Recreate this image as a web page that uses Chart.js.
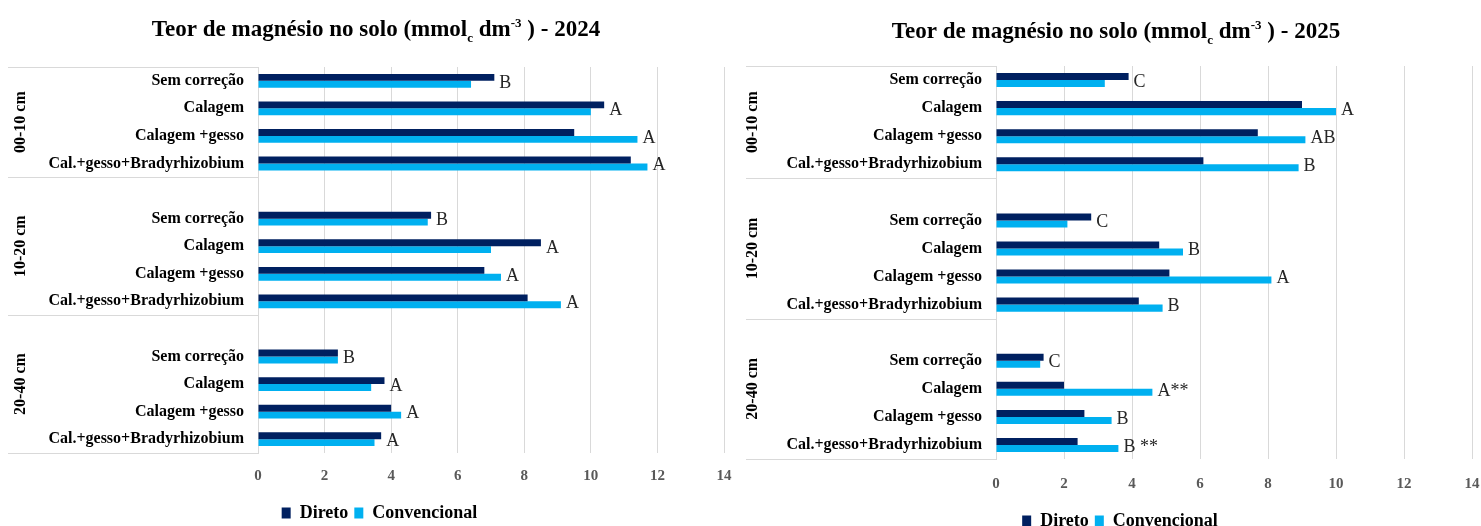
<!DOCTYPE html>
<html><head><meta charset="utf-8">
<script src="https://cdn.jsdelivr.net/npm/chart.js@4.4.1/dist/chart.umd.min.js"></script>
<style>
html,body{margin:0;padding:0;background:#fff;overflow:hidden;width:1481px;height:526px;position:relative;}
canvas{position:absolute;top:0;}
</style></head><body>
<canvas id="c1" width="756" height="532" style="left:0px"></canvas>
<canvas id="c2" width="758" height="540" style="left:740px"></canvas>
<script>
// ---- data ----
const categories = ['Sem correção','Calagem','Calagem +gesso','Cal.+gesso+Bradyrhizobium','',
                    'Sem correção','Calagem','Calagem +gesso','Cal.+gesso+Bradyrhizobium','',
                    'Sem correção','Calagem','Calagem +gesso','Cal.+gesso+Bradyrhizobium'];
const depthGroups = ['00-10 cm','10-20 cm','20-40 cm'];
const groupStart = [0, 4, 9];
const groupEnd = [3, 8, 13];
const seriesNames = ['Direto','Convencional'];

const direto2024 = [7.1, 10.4, 9.5, 11.2, null, 5.2, 8.5, 6.8, 8.1, null, 2.4, 3.8, 4.0, 3.7];
const convencional2024 = [6.4, 10.0, 11.4, 11.7, null, 5.1, 7.0, 7.3, 9.1, null, 2.4, 3.4, 4.3, 3.5];
const letters2024 = ['B','A','A','A','', 'B','A','A','A','', 'B','A','A','A'];

const direto2025 = [3.9, 9.0, 7.7, 6.1, null, 2.8, 4.8, 5.1, 4.2, null, 1.4, 2.0, 2.6, 2.4];
const convencional2025 = [3.2, 10.0, 9.1, 8.9, null, 2.1, 5.5, 8.1, 4.9, null, 1.3, 4.6, 3.4, 3.6];
const letters2025 = ['C','A','AB','B','', 'C','B','A','B','', 'C','A**','B','B **'];

const xMin = 0, xMax = 14, xStep = 2;

const SERIF = "'Liberation Serif', 'Times New Roman', serif";

const decor = {
  id: 'decor',
  beforeDatasetsDraw(chart, args, o) {
    const {ctx, chartArea, scales: {y}} = chart;
    const h = y.getPixelForValue(1) - y.getPixelForValue(0);
    ctx.save();
    ctx.strokeStyle = '#d9d9d9';
    ctx.lineWidth = 1;
    const lines = new Set();
    groupStart.forEach((s, g) => {
      lines.add(Math.round(y.getPixelForValue(s) - h / 2) + 0.5);
      lines.add(Math.round(y.getPixelForValue(groupEnd[g]) + h / 2) + 0.5);
    });
    lines.forEach(py => {
      ctx.beginPath(); ctx.moveTo(o.boxLeft, py); ctx.lineTo(chartArea.left, py); ctx.stroke();
    });
    // group labels
    ctx.fillStyle = '#000';
    ctx.font = 'bold 16px ' + SERIF;
    ctx.textAlign = 'center';
    ctx.textBaseline = 'middle';
    depthGroups.forEach((g, i) => {
      const cy = (y.getPixelForValue(groupStart[i]) + y.getPixelForValue(groupEnd[i])) / 2;
      ctx.save();
      ctx.translate(o.groupX, cy);
      ctx.rotate(-Math.PI / 2);
      ctx.fillText(g, 0, 0);
      ctx.restore();
    });
    ctx.restore();
  },
  afterDraw(chart, args, o) {
    const {ctx, scales: {x, y}} = chart;
    const d0 = chart.data.datasets[0].data, d1 = chart.data.datasets[1].data;
    ctx.save();
    ctx.font = '18px ' + SERIF;
    ctx.fillStyle = '#262626';
    ctx.textAlign = 'left';
    ctx.textBaseline = 'middle';
    o.letters.forEach((t, i) => {
      if (!t) return;
      const v = Math.max(d0[i] || 0, d1[i] || 0);
      ctx.fillText(t, x.getPixelForValue(v) + 5, y.getPixelForValue(i) + 2);
    });
    // title with subscript / superscript
    const parts = [
      {t: 'Teor de magnésio no solo (mmol', f: 'bold 23px ' + SERIF, dy: 0},
      {t: 'c', f: 'bold 13px ' + SERIF, dy: 6},
      {t: ' dm', f: 'bold 23px ' + SERIF, dy: 0},
      {t: '-3', f: 'bold 13px ' + SERIF, dy: -9},
      {t: ' ) - ' + o.year, f: 'bold 23px ' + SERIF, dy: 0}
    ];
    let total = 0;
    parts.forEach(p => { ctx.font = p.f; p.w = ctx.measureText(p.t).width; total += p.w; });
    let cx = o.titleX - total / 2;
    ctx.fillStyle = '#000';
    ctx.textBaseline = 'alphabetic';
    parts.forEach(p => { ctx.font = p.f; ctx.fillText(p.t, cx, o.titleY + p.dy); cx += p.w; });
    ctx.restore();
  }
};

function makeChart(id, dir, conv, letters, year, cfg) {
  return new Chart(document.getElementById(id), {
    type: 'bar',
    data: {
      labels: categories,
      datasets: [
        {label: seriesNames[0], data: dir, backgroundColor: '#002060', categoryPercentage: 0.5, barPercentage: 1.0},
        {label: seriesNames[1], data: conv, backgroundColor: '#00b0f0', categoryPercentage: 0.5, barPercentage: 1.0}
      ]
    },
    options: {
      indexAxis: 'y',
      responsive: false,
      animation: false,
      layout: {padding: {left: cfg.padLeft, right: cfg.padRight, top: cfg.padTop, bottom: 0}},
      scales: {
        x: {
          min: xMin, max: xMax,
          ticks: {stepSize: xStep, color: '#595959', font: {family: SERIF, size: 15, weight: 'bold'}, padding: cfg.tickPad},
          grid: {color: '#d9d9d9', drawTicks: false},
          border: {display: false},
          afterFit: s => { s.height = cfg.xHeight; }
        },
        y: {
          ticks: {autoSkip: false, color: '#000', font: {family: SERIF, size: 16, weight: 'bold'}, padding: 14},
          grid: {display: false, drawTicks: false},
          border: {color: '#d9d9d9'},
          afterFit: s => { s.width = cfg.yWidth; }
        }
      },
      plugins: {
        legend: {
          position: 'bottom',
          labels: {boxWidth: 9, boxHeight: 11, padding: 6, color: '#000', font: {family: SERIF, size: 18, weight: 'bold'}}
        },
        tooltip: {enabled: false},
        decor: {boxLeft: cfg.boxLeft, groupX: cfg.groupX, letters: letters, year: year, titleX: cfg.titleX, titleY: cfg.titleY}
      }
    },
    plugins: [decor]
  });
}

makeChart('c1', direto2024, convencional2024, letters2024, '2024',
  {padLeft: 35, padRight: 32, padTop: 67, tickPad: 14, xHeight: 45, yWidth: 223, boxLeft: 8, groupX: 21, titleX: 376, titleY: 36});
makeChart('c2', direto2025, convencional2025, letters2025, '2025',
  {padLeft: 28, padRight: 26, padTop: 66, tickPad: 16, xHeight: 47, yWidth: 228, boxLeft: 6, groupX: 13, titleX: 376, titleY: 38});
</script>
</body></html>
